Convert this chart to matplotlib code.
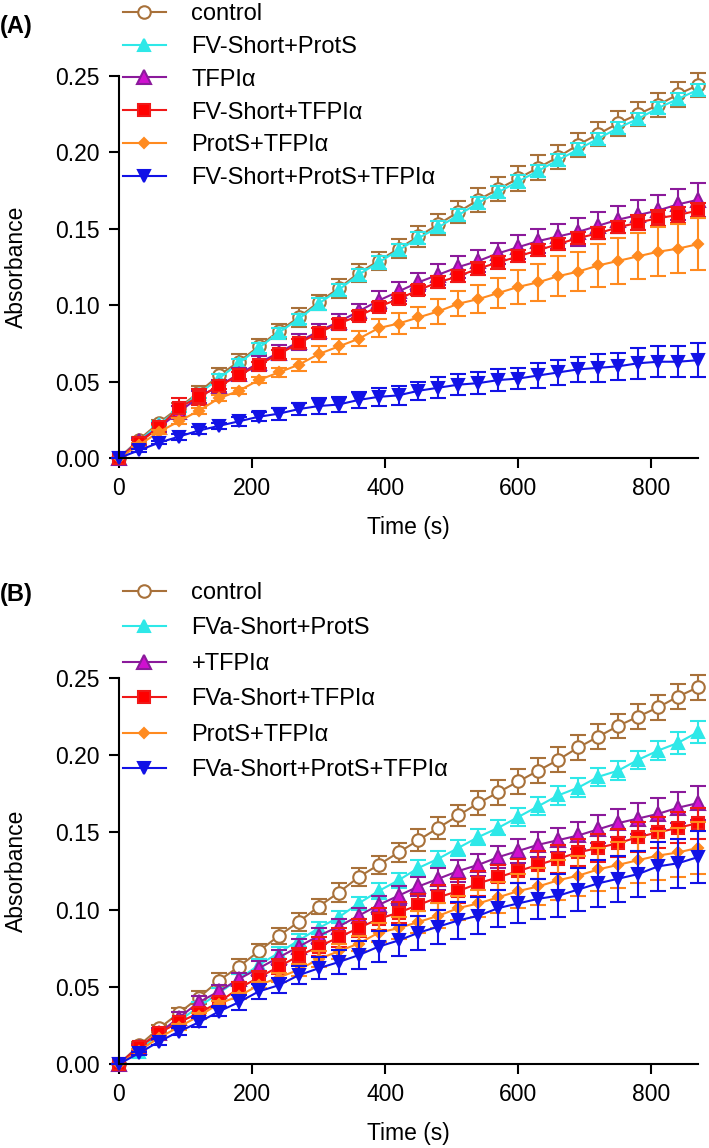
import numpy as np
import matplotlib
matplotlib.use("Agg")
import matplotlib.pyplot as plt
from matplotlib.ticker import FormatStrFormatter

plt.rcParams['font.family'] = ['Liberation Sans', 'DejaVu Sans']

# time points (s)
time_s = [0, 30, 60, 90, 120, 150, 180, 210, 240, 270, 300, 330, 360, 390, 420,
          450, 480, 510, 540, 570, 600, 630, 660, 690, 720, 750, 780, 810, 840, 870]

# shared curves
control = [0.000, 0.012, 0.023, 0.033, 0.043, 0.054, 0.063, 0.073, 0.083, 0.092,
           0.102, 0.111, 0.121, 0.129, 0.137, 0.145, 0.153, 0.161, 0.169, 0.176,
           0.183, 0.190, 0.197, 0.205, 0.212, 0.219, 0.225, 0.231, 0.238, 0.244]
control_err = [0, 0.002, 0.002, 0.003, 0.004, 0.005, 0.005, 0.005, 0.005, 0.006,
               0.005, 0.006, 0.006, 0.006, 0.006, 0.007, 0.007, 0.007, 0.008, 0.008,
               0.008, 0.008, 0.008, 0.008, 0.008, 0.008, 0.008, 0.008, 0.008, 0.008]

tfpi = [0.000, 0.011, 0.020, 0.030, 0.040, 0.047, 0.055, 0.062, 0.069, 0.076,
        0.083, 0.089, 0.096, 0.103, 0.109, 0.115, 0.120, 0.125, 0.129, 0.134,
        0.138, 0.142, 0.145, 0.148, 0.152, 0.156, 0.159, 0.162, 0.166, 0.169]
tfpi_err = [0, 0.002, 0.003, 0.004, 0.004, 0.004, 0.004, 0.005, 0.005, 0.005,
            0.005, 0.005, 0.005, 0.006, 0.006, 0.006, 0.007, 0.007, 0.007, 0.007,
            0.008, 0.008, 0.008, 0.009, 0.009, 0.009, 0.010, 0.010, 0.010, 0.011]

prots_tfpi = [0.000, 0.0085, 0.017, 0.024, 0.031, 0.039, 0.044, 0.051, 0.056, 0.061,
              0.068, 0.073, 0.078, 0.085, 0.088, 0.092, 0.096, 0.101, 0.104, 0.108,
              0.112, 0.115, 0.119, 0.122, 0.126, 0.129, 0.132, 0.135, 0.137, 0.140]
prots_tfpi_err = [0, 0.001, 0.001, 0.002, 0.002, 0.002, 0.002, 0.002, 0.003, 0.004,
                  0.005, 0.005, 0.005, 0.006, 0.007, 0.007, 0.008, 0.008, 0.009, 0.010,
                  0.011, 0.012, 0.013, 0.013, 0.014, 0.015, 0.015, 0.016, 0.016, 0.017]

# panel A
a_fv_prots = [0.000, 0.011, 0.022, 0.032, 0.042, 0.052, 0.062, 0.072, 0.082, 0.091,
              0.101, 0.110, 0.120, 0.128, 0.136, 0.144, 0.151, 0.159, 0.167, 0.174,
              0.181, 0.188, 0.195, 0.202, 0.209, 0.216, 0.222, 0.229, 0.235, 0.241]
a_fv_prots_err = [0, 0.001, 0.002, 0.002, 0.003, 0.003, 0.003, 0.003, 0.003, 0.003,
                  0.004, 0.004, 0.004, 0.004, 0.004, 0.004, 0.004, 0.004, 0.004, 0.004,
                  0.004, 0.004, 0.004, 0.004, 0.004, 0.004, 0.004, 0.004, 0.004, 0.004]
a_fv_tfpi = [0.000, 0.010, 0.020, 0.033, 0.040, 0.047, 0.054, 0.061, 0.068, 0.075,
             0.082, 0.088, 0.093, 0.099, 0.104, 0.110, 0.115, 0.119, 0.124, 0.128,
             0.132, 0.136, 0.140, 0.144, 0.147, 0.151, 0.154, 0.157, 0.159, 0.162]
a_fv_tfpi_err = [0, 0.002, 0.002, 0.006, 0.005, 0.002, 0.002, 0.002, 0.003, 0.003,
                 0.003, 0.003, 0.003, 0.003, 0.003, 0.003, 0.004, 0.004, 0.004, 0.004,
                 0.004, 0.004, 0.004, 0.004, 0.004, 0.004, 0.005, 0.005, 0.005, 0.005]
a_fv_prots_tfpi = [0.000, 0.005, 0.010, 0.014, 0.018, 0.021, 0.024, 0.027, 0.029, 0.032,
                   0.034, 0.035, 0.038, 0.040, 0.041, 0.044, 0.046, 0.048, 0.049, 0.051,
                   0.052, 0.054, 0.056, 0.058, 0.059, 0.060, 0.062, 0.063, 0.063, 0.064]
a_fv_prots_tfpi_err = [0, 0.001, 0.001, 0.002, 0.002, 0.002, 0.003, 0.003, 0.004, 0.004,
                       0.005, 0.005, 0.005, 0.006, 0.006, 0.006, 0.007, 0.007, 0.007, 0.007,
                       0.007, 0.008, 0.008, 0.008, 0.009, 0.009, 0.010, 0.010, 0.010, 0.011]

# panel B
b_fva_prots = [0.000, 0.008, 0.020, 0.028, 0.037, 0.046, 0.055, 0.064, 0.072, 0.080,
               0.088, 0.095, 0.104, 0.112, 0.119, 0.127, 0.133, 0.140, 0.147, 0.153,
               0.160, 0.167, 0.174, 0.179, 0.186, 0.190, 0.197, 0.203, 0.208, 0.215]
b_fva_prots_err = [0, 0.001, 0.002, 0.002, 0.003, 0.003, 0.003, 0.004, 0.004, 0.004,
                   0.004, 0.004, 0.004, 0.005, 0.005, 0.005, 0.005, 0.005, 0.005, 0.005,
                   0.006, 0.006, 0.006, 0.006, 0.006, 0.006, 0.006, 0.006, 0.007, 0.007]
b_fva_tfpi = [0.000, 0.011, 0.020, 0.027, 0.033, 0.040, 0.049, 0.056, 0.063, 0.070,
              0.076, 0.082, 0.088, 0.094, 0.098, 0.103, 0.108, 0.112, 0.117, 0.121,
              0.125, 0.129, 0.133, 0.137, 0.140, 0.143, 0.147, 0.150, 0.153, 0.156]
b_fva_tfpi_err = [0, 0.001, 0.002, 0.002, 0.003, 0.003, 0.004, 0.004, 0.005, 0.005,
                  0.006, 0.006, 0.006, 0.007, 0.007, 0.007, 0.008, 0.008, 0.008, 0.008,
                  0.008, 0.009, 0.009, 0.009, 0.009, 0.009, 0.010, 0.010, 0.010, 0.010]
b_fva_prots_tfpi = [0.000, 0.007, 0.0145, 0.021, 0.027, 0.034, 0.040, 0.047, 0.051, 0.0575,
                    0.062, 0.066, 0.0705, 0.076, 0.080, 0.085, 0.089, 0.093, 0.096, 0.101,
                    0.104, 0.107, 0.109, 0.113, 0.117, 0.120, 0.123, 0.128, 0.130, 0.134]
b_fva_prots_tfpi_err = [0, 0.001, 0.002, 0.002, 0.003, 0.003, 0.005, 0.005, 0.005, 0.006,
                        0.007, 0.008, 0.009, 0.010, 0.010, 0.011, 0.011, 0.012, 0.012, 0.012,
                        0.013, 0.013, 0.014, 0.014, 0.015, 0.015, 0.015, 0.016, 0.016, 0.017]

labels_a = ['control', 'FV-Short+ProtS', 'TFPIα', 'FV-Short+TFPIα',
            'ProtS+TFPIα', 'FV-Short+ProtS+TFPIα']
labels_b = ['control', 'FVa-Short+ProtS', '+TFPIα', 'FVa-Short+TFPIα',
            'ProtS+TFPIα', 'FVa-Short+ProtS+TFPIα']

series_a = [(control, control_err), (a_fv_prots, a_fv_prots_err), (tfpi, tfpi_err),
            (a_fv_tfpi, a_fv_tfpi_err), (prots_tfpi, prots_tfpi_err),
            (a_fv_prots_tfpi, a_fv_prots_tfpi_err)]
series_b = [(control, control_err), (b_fva_prots, b_fva_prots_err), (tfpi, tfpi_err),
            (b_fva_tfpi, b_fva_tfpi_err), (prots_tfpi, prots_tfpi_err),
            (b_fva_prots_tfpi, b_fva_prots_tfpi_err)]

# line colour, marker, face, edge, size
styles = [
    ('#A8713A', 'o', 'white', '#A8713A', 9),
    ('#2EE8E8', '^', '#2EE8E8', '#2EE8E8', 8.5),
    ('#8B1A9B', '^', '#D010D0', '#8B1A9B', 9.5),
    ('#F01818', 's', '#FF0000', '#F01818', 8.5),
    ('#FF8A1F', 'D', '#FF8A1F', '#FF8A1F', 5.5),
    ('#1212E6', 'v', '#1212E6', '#1212E6', 8.5),
]

FS = 16.5
W, H = 709, 1148
fig = plt.figure(figsize=(W / 100, H / 100), dpi=100)


def panel(top_px, bottom_px, series, labels, tag, tag_y, leg_y, spacing):
    ax = fig.add_axes([119 / W, 1 - bottom_px / H, (698 - 119) / W,
                       (bottom_px - top_px) / H])
    handles = []
    for (y, e), (c, m, fc, ec, ms) in zip(series, styles):
        ax.errorbar(time_s, y, yerr=e, fmt='none', ecolor=c, elinewidth=1.5,
                    capsize=5.5, capthick=1.5, clip_on=False)
        h, = ax.plot(time_s, y, color=c, lw=1.5, marker=m, markerfacecolor=fc,
                     markeredgecolor=ec, markeredgewidth=1.5, ms=ms, clip_on=False)
        handles.append(h)
    ax.set_xlim(0, 870)
    ax.set_ylim(0, 0.25)
    ax.set_xticks([0, 200, 400, 600, 800])
    ax.set_yticks([0, 0.05, 0.10, 0.15, 0.20, 0.25])
    ax.yaxis.set_major_formatter(FormatStrFormatter('%.2f'))
    for s in ['top', 'right']:
        ax.spines[s].set_visible(False)
    for s in ['left', 'bottom']:
        ax.spines[s].set_linewidth(1.5)
    ax.tick_params(labelsize=FS, width=1.5, length=7, pad=7)
    ax.set_xlabel('Time (s)', fontsize=FS)
    ax.set_ylabel('Absorbance', fontsize=FS)
    ax.yaxis.set_label_coords(-0.157, 0.5)
    ax.xaxis.set_label_coords(0.50, -0.151)
    ax.legend(handles, labels, loc='upper left',
              bbox_to_anchor=(123 / W, 1 - leg_y / H), bbox_transform=fig.transFigure,
              frameon=False, borderpad=0, borderaxespad=0, handlelength=1.8,
              handletextpad=1.1, labelspacing=spacing, fontsize=17)
    fig.text(0 / W, 1 - tag_y / H, tag, fontsize=17, fontweight='bold', va='center')
    return ax


panel(76, 458, series_a, labels_a, '(A)', 27, 3, 0.46)
panel(678, 1064, series_b, labels_b, '(B)', 595, 582, 0.57)

fig.savefig('out.png', dpi=100)
